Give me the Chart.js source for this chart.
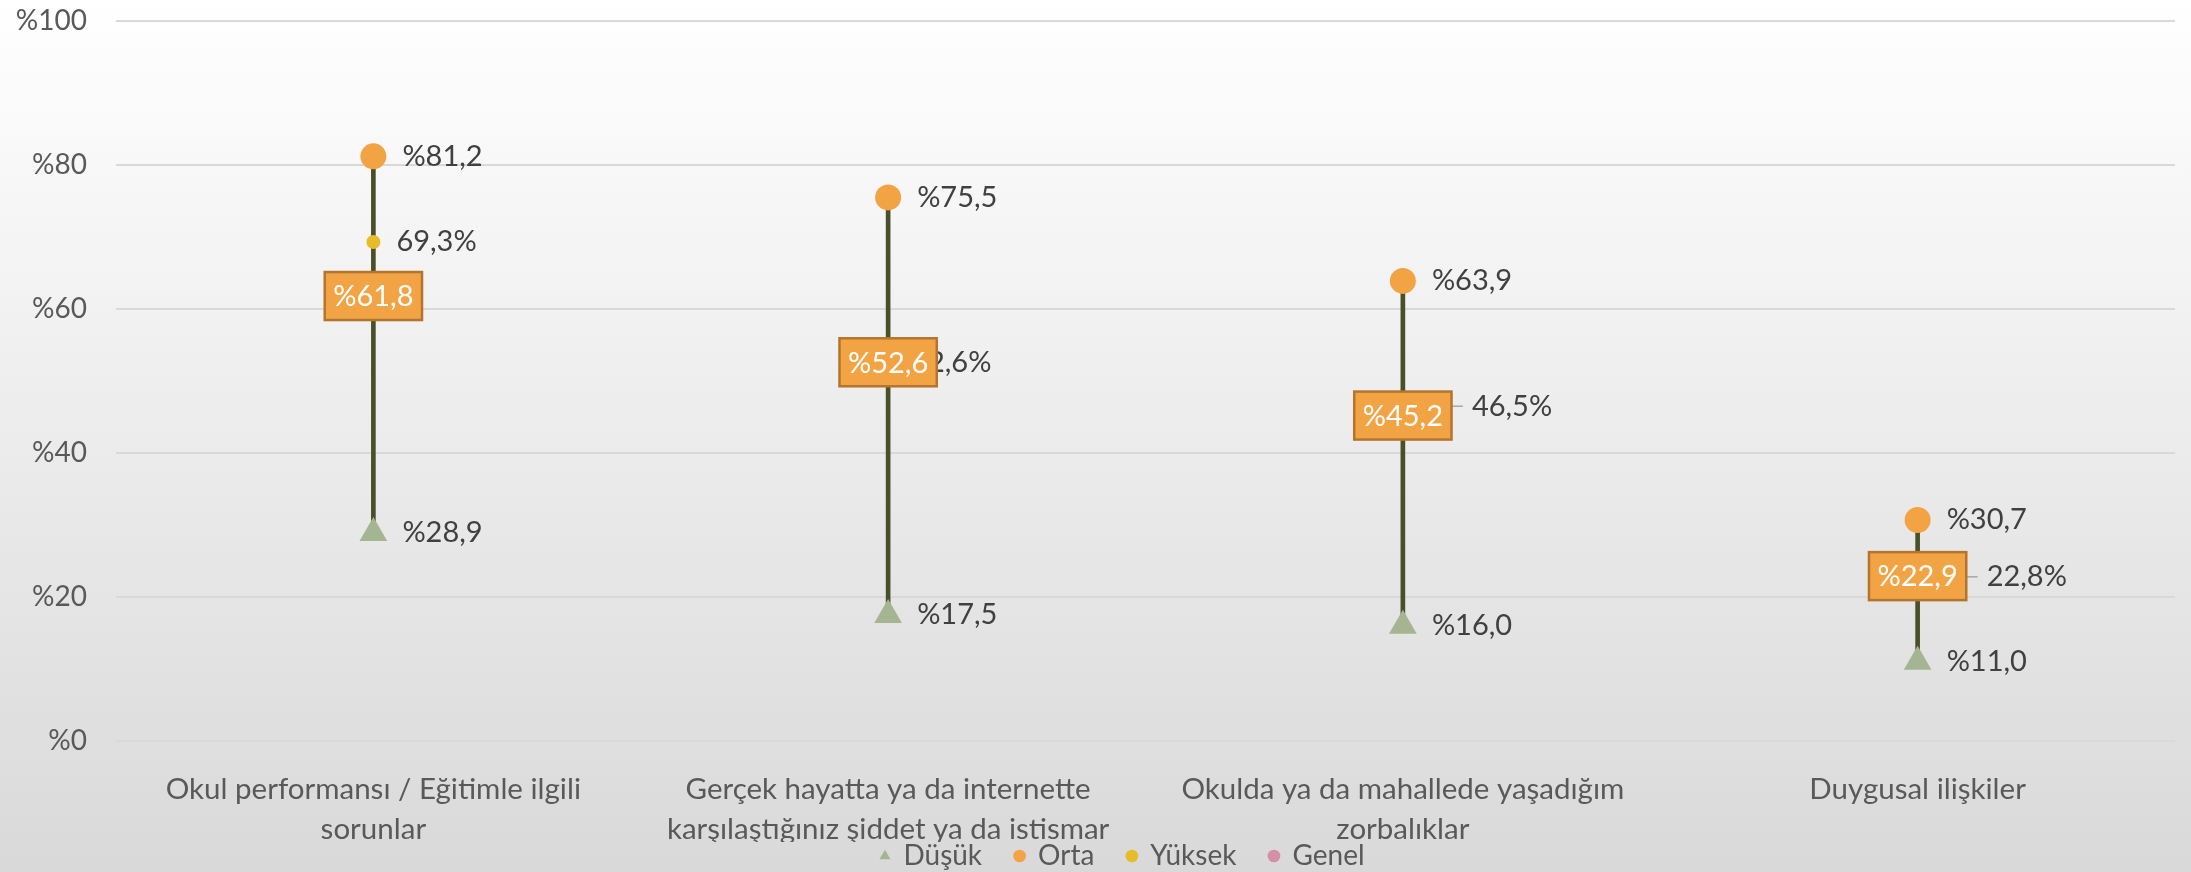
<!DOCTYPE html>
<html lang="tr">
<head>
<meta charset="utf-8">
<title>Düşük / Orta / Yüksek / Genel</title>
<script src="https://cdn.jsdelivr.net/npm/chart.js@4.4.1/dist/chart.umd.min.js"></script>
<style>
  html, body { margin: 0; padding: 0; background: #fff; }
  canvas { display: block; }
</style>
</head>
<body>
<canvas id="rangeChart" width="2191" height="872"></canvas>
<script>
const categories = [
  ["Okul performansı / Eğitimle ilgili", "sorunlar"],
  ["Gerçek hayatta ya da internette", "karşılaştığınız şiddet ya da istismar"],
  ["Okulda ya da mahallede yaşadığım", "zorbalıklar"],
  "Duygusal ilişkiler"
];
const dusuk = [28.9, 17.5, 16.0, 11.0];
const orta = [81.2, 75.5, 63.9, 30.7];
const yuksek = [69.3, 52.6, 46.5, 22.8];
const genel = [61.8, 52.6, 45.2, 22.9];
const yTicks = [0, 20, 40, 60, 80, 100];

const FONT = "Lato, 'Open Sans', sans-serif";
const pctBefore = v => "%" + v.toFixed(1).replace(".", ",");
const pctAfter = v => v.toFixed(1).replace(".", ",") + "%";

// soft white-to-grey fill behind everything
const background = {
  id: "background",
  beforeDraw(chart) {
    const { ctx, width, height } = chart;
    const g = ctx.createLinearGradient(0, 0, 0, height);
    g.addColorStop(0, "#ffffff");
    g.addColorStop(1, "#d9d9d9");
    ctx.save();
    ctx.fillStyle = g;
    ctx.fillRect(0, 0, width, height);
    ctx.restore();
  }
};

// legend row sits a little right of centre, close to the bottom edge
const legendPlace = {
  id: "legendPlace",
  afterLayout(chart, args, opts) {
    const lg = chart.legend;
    const labels = lg.options.labels;
    lg.top = opts.centerY - labels.padding - labels.font.size / 2;
    lg.bottom = chart.height;
    lg.height = lg.bottom - lg.top;
    lg.left += opts.shiftX;
    lg.right += opts.shiftX;
  }
};

// value labels; Genel gets the filled box on top
const valueLabels = {
  id: "valueLabels",
  afterDatasetsDraw(chart, args, opts) {
    const ctx = chart.ctx;
    ctx.save();
    ctx.font = "29px " + FONT;
    ctx.textBaseline = "middle";
    ctx.textAlign = "left";
    ctx.fillStyle = "#404040";

    [[0, dusuk], [1, orta]].forEach(([idx, values]) => {
      chart.getDatasetMeta(idx).data.forEach((pt, i) => {
        ctx.fillText(pctBefore(values[i]), pt.x + 29, pt.y);
      });
    });

    chart.getDatasetMeta(2).data.forEach((pt, i) => {
      const pushed = opts.leader[i];
      const x = pt.x + (pushed ? 69 : 23);
      if (pushed) {
        ctx.strokeStyle = "#a6a6a6";
        ctx.lineWidth = 1.5;
        ctx.beginPath();
        ctx.moveTo(x - 20, pt.y);
        ctx.lineTo(x - 9, pt.y);
        ctx.stroke();
      }
      ctx.fillText(pctAfter(yuksek[i]), x, pt.y);
    });

    ctx.textAlign = "center";
    chart.getDatasetMeta(3).data.forEach((pt, i) => {
      const txt = pctBefore(genel[i]);
      const w = ctx.measureText(txt).width + 17;
      const h = 48;
      ctx.fillStyle = "#f2a445";
      ctx.fillRect(pt.x - w / 2, pt.y - h / 2, w, h);
      ctx.strokeStyle = "#b5742d";
      ctx.lineWidth = 2.5;
      ctx.strokeRect(pt.x - w / 2, pt.y - h / 2, w, h);
      ctx.fillStyle = "#ffffff";
      ctx.fillText(txt, pt.x, pt.y + 1);
    });
    ctx.restore();
  }
};

function pointSet(label, data, style, radius, color) {
  return {
    type: "line",
    label: label,
    data: data,
    showLine: false,
    pointStyle: style,
    pointRadius: radius,
    pointHoverRadius: radius,
    pointBorderWidth: 0,
    pointBackgroundColor: color,
    backgroundColor: color,
    borderColor: color
  };
}

new Chart(document.getElementById("rangeChart"), {
  type: "line",
  data: {
    labels: categories,
    datasets: [
      pointSet("Düşük", dusuk, "triangle", 16, "#a5b592"),
      pointSet("Orta", orta, "circle", 13, "#f2a445"),
      pointSet("Yüksek", yuksek, "circle", 7, "#e6bc2a"),
      pointSet("Genel", genel, "circle", 7, "#d590a6"),
      {
        type: "bar",
        label: "aralık",
        data: dusuk.map((v, i) => [v, orta[i]]),
        backgroundColor: "#4b4f28",
        barThickness: 4,
        order: 10
      }
    ]
  },
  options: {
    responsive: false,
    animation: false,
    devicePixelRatio: 1,
    layout: { padding: { top: 21, right: 0, left: 0, bottom: 0 } },
    scales: {
      x: {
        offset: true,
        grid: { display: false },
        border: { display: false },
        ticks: {
          color: "#595959",
          font: { family: FONT, size: 29.5, lineHeight: 1.36 },
          padding: 20,
          maxRotation: 0,
          autoSkip: false
        },
        afterFit(s) { s.height = 101; }
      },
      y: {
        min: 0,
        max: 100,
        afterBuildTicks(s) { s.ticks = yTicks.map(v => ({ value: v })); },
        grid: { color: "#d9d9d9", lineWidth: 2, drawTicks: false },
        border: { display: false },
        ticks: {
          color: "#595959",
          font: { family: FONT, size: 28 },
          padding: 29,
          callback: v => "%" + v
        },
        afterFit(s) {
          s.width = 116;
          s.paddingTop = 0;
          s.paddingBottom = 0;
        }
      }
    },
    plugins: {
      legend: {
        position: "bottom",
        maxHeight: 30,
        labels: {
          filter: item => item.datasetIndex < 4,
          usePointStyle: true,
          boxWidth: 9,
          boxHeight: 9,
          padding: 33,
          color: "#595959",
          font: { family: FONT, size: 28 }
        }
      },
      legendPlace: { centerY: 856, shiftX: 27 },
      tooltip: { enabled: false },
      valueLabels: { leader: [false, false, true, true] }
    }
  },
  plugins: [background, legendPlace, valueLabels]
});
</script>
</body>
</html>
